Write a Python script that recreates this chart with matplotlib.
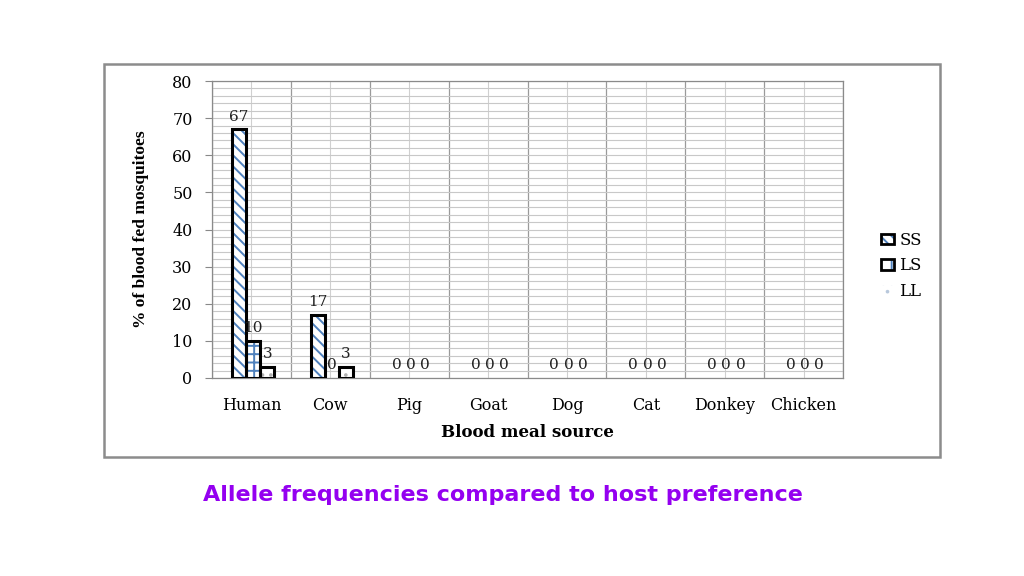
import matplotlib
matplotlib.use("Agg")
import matplotlib.pyplot as plt
import numpy as np
from matplotlib.patches import Patch, Rectangle

# Chart data
sources = ["Human", "Cow", "Pig", "Goat", "Dog", "Cat", "Donkey", "Chicken"]
ss = [67, 17, 0, 0, 0, 0, 0, 0]
ls = [10, 0, 0, 0, 0, 0, 0, 0]
ll = [3, 3, 0, 0, 0, 0, 0, 0]
genotypes = ["SS", "LS", "LL"]
y_ticks = [0, 10, 20, 30, 40, 50, 60, 70, 80]

SERIF = "Liberation Serif"
WIDE_SERIF = "DejaVu Serif"
BLUE = "#4F81BD"
TITLE_PURPLE = "#9400F0"

plt.rcParams["hatch.linewidth"] = 1.4

fig = plt.figure(figsize=(10.24, 5.76), dpi=100)
fig.patch.set_facecolor("white")

# gray frame round the pasted chart
fig.add_artist(Rectangle((104 / 1024, 1 - 457 / 576), 836 / 1024, 393 / 576,
                         transform=fig.transFigure, fill=False,
                         edgecolor="#8c8c8c", linewidth=1.8))

ax = fig.add_axes([212 / 1024, 1 - 378 / 576, 631 / 1024, 297 / 576])

x = np.arange(len(sources))
w = 0.18
offsets = [-w, 0, w]
styles = [
    dict(hatch="\\\\\\", hcolor=BLUE),
    dict(hatch="++", hcolor=BLUE),
    dict(hatch="..", hcolor="#b0b0b0"),
]

for vals, off, st in zip([ss, ls, ll], offsets, styles):
    xs = x + off + 0.02
    heights = np.array(vals, dtype=float)
    shown = heights > 0
    # pattern layer, then the black outline on top (zero bars stay invisible)
    ax.bar(xs[shown], heights[shown], w, color="white", edgecolor=st["hcolor"],
           hatch=st["hatch"], linewidth=0, zorder=3)
    ax.bar(xs[shown], heights[shown], w, fill=False, edgecolor="black",
           linewidth=2.2, zorder=4)
    for xi, v in zip(xs, vals):
        ax.annotate(f"{v}", (xi, v), xytext=(0, 4), textcoords="offset points",
                    ha="center", va="bottom", fontsize=11, family=WIDE_SERIF,
                    color="#222222", zorder=5)

ax.set_xlim(-0.5, len(sources) - 0.5)
ax.set_ylim(0, 80)
ax.set_yticks(y_ticks)
ax.set_yticks(np.arange(0, 81, 2), minor=True)
ax.set_xticks(x)
ax.set_xticks(np.arange(-0.5, len(sources), 1), minor=True)
ax.set_xticklabels(sources, family=WIDE_SERIF, fontsize=11.5)
ax.set_yticklabels([str(t) for t in y_ticks], family=WIDE_SERIF, fontsize=11.5)

# grid: light horizontal every 2, vertical at centers and boundaries
ax.grid(axis="y", which="both", color="#c8c8c8", linewidth=0.8, zorder=0)
ax.grid(axis="x", which="major", color="#d0d0d0", linewidth=0.8, zorder=0)
ax.grid(axis="x", which="minor", color="#9a9a9a", linewidth=0.9, zorder=0)
ax.set_axisbelow(True)

ax.tick_params(axis="y", which="major", length=5, color="#888888", pad=9)
ax.tick_params(axis="y", which="minor", length=0)
ax.tick_params(axis="x", which="both", length=0, pad=14)
for side in ["left", "bottom", "top", "right"]:
    ax.spines[side].set_color("#8a8a8a")
    ax.spines[side].set_linewidth(0.9)

ax.set_xlabel("Blood meal source", family=WIDE_SERIF, fontsize=12,
              weight="bold", labelpad=7)
ax.set_ylabel("% of blood fed mosquitoes", family=SERIF, fontsize=12.5,
              weight="bold", labelpad=17)

handles = [
    (Patch(facecolor="white", edgecolor=BLUE, hatch="\\\\\\", linewidth=0),
     Patch(fill=False, edgecolor="black", linewidth=2)),
    (Patch(facecolor="white", edgecolor=BLUE, hatch="+", linewidth=0),
     Patch(fill=False, edgecolor="black", linewidth=2)),
    Patch(facecolor="white", edgecolor="#b8c8dc", hatch="..", linewidth=0),
]
fig.legend(handles, genotypes, loc="upper left",
           bbox_to_anchor=(866 / 1024, 1 - 217 / 576), frameon=False,
           prop={"family": WIDE_SERIF, "size": 12}, handlelength=0.8,
           handleheight=0.6, handletextpad=0.3, labelspacing=0.5)

fig.text(503 / 1024, 1 - 495 / 576,
         "Allele frequencies compared to host preference",
         ha="center", va="center", fontsize=16, weight="bold",
         color=TITLE_PURPLE, family="DejaVu Sans")

fig.savefig("out.png", dpi=100)
